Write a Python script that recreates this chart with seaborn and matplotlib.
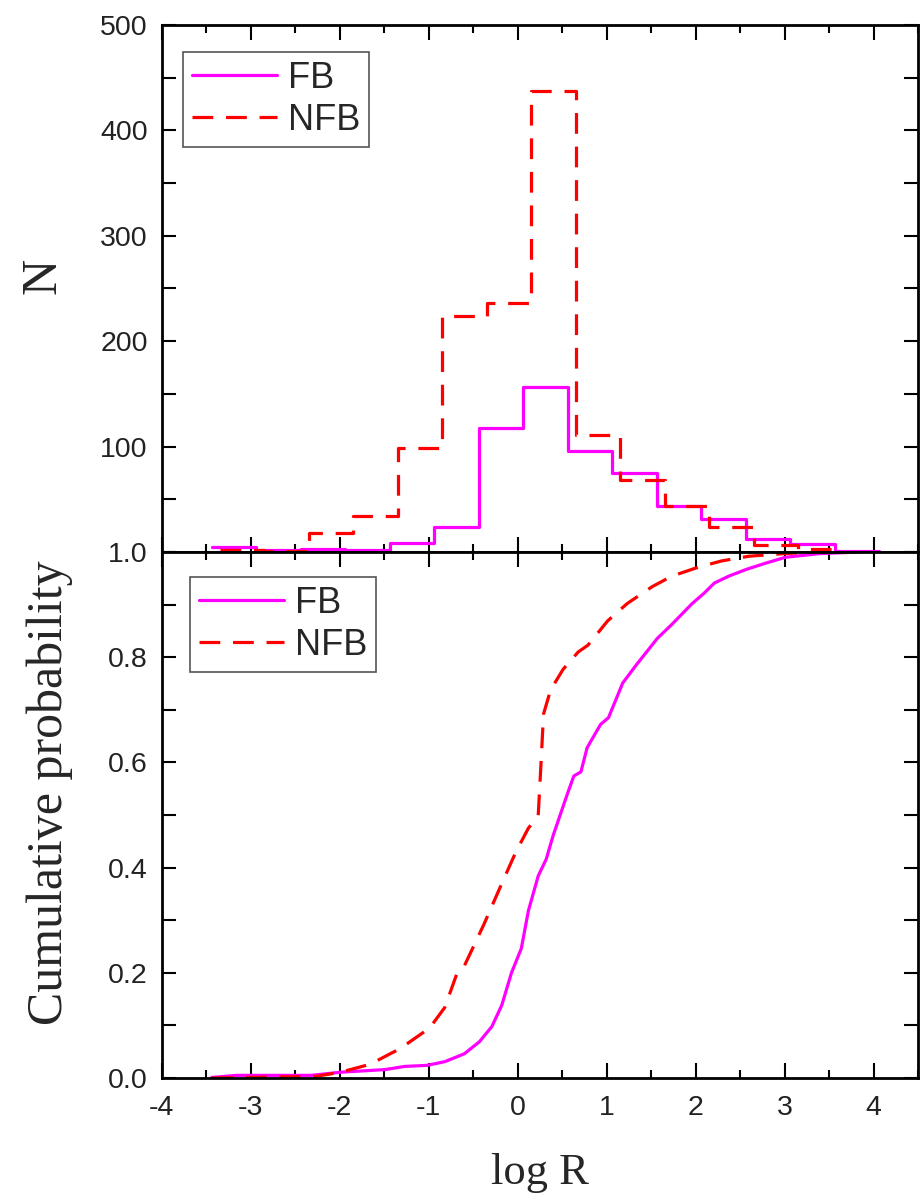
import numpy as np
import pandas as pd
import seaborn as sns
import matplotlib
matplotlib.use("Agg")
from matplotlib import pyplot as plt
from matplotlib.ticker import MultipleLocator

sns.set_theme(style="ticks")
plt.rcParams["font.family"] = ["Liberation Sans", "DejaVu Sans"]
plt.rcParams["axes.unicode_minus"] = False

# histogram (bin edges and counts)
fb_edges = [-3.44, -2.94, -2.44, -1.94, -1.44, -0.94, -0.44, 0.06, 0.56, 1.06,
            1.56, 2.06, 2.56, 3.06, 3.56, 4.06]
fb_counts = [5, 2, 3, 2, 9, 24, 118, 157, 96, 75, 44, 31, 12, 8, 1]
nfb_edges = [-3.35, -2.85, -2.35, -1.85, -1.35, -0.85, -0.35, 0.15, 0.65, 1.15,
             1.65, 2.15, 2.65, 3.15, 3.65]
nfb_counts = [2, 1, 18, 34, 99, 224, 236, 437, 111, 68, 44, 24, 7, 3]

# cumulative curves (bottom panel)
fb_cdf_x = [-3.44, -3.16, -2.32, -1.99, -1.49, -1.27, -1.02, -0.82, -0.60, -0.43,
            -0.29, -0.18, -0.07, 0.04, 0.12, 0.23, 0.32, 0.40, 0.56, 0.63, 0.71,
            0.78, 0.93, 1.02, 1.18, 1.34, 1.57, 1.73, 1.96, 2.09, 2.21, 2.37,
            2.57, 2.79, 3.01, 3.40, 3.84]
fb_cdf_y = [0.001, 0.005, 0.005, 0.011, 0.016, 0.022, 0.024, 0.031, 0.046, 0.069,
            0.098, 0.138, 0.200, 0.246, 0.318, 0.384, 0.416, 0.462, 0.541, 0.574,
            0.582, 0.628, 0.672, 0.685, 0.751, 0.787, 0.836, 0.862, 0.902, 0.921,
            0.941, 0.954, 0.967, 0.979, 0.990, 0.997, 1.0]
nfb_cdf_x = [-3.43, -2.27, -1.99, -1.66, -1.32, -0.99, -0.82, -0.68, -0.60, -0.38,
             -0.16, -0.02, 0.12, 0.23, 0.26, 0.29, 0.37, 0.51, 0.68, 0.79, 1.01,
             1.23, 1.51, 1.73, 2.01, 2.29, 2.60, 3.00, 3.40]
nfb_cdf_y = [0.0, 0.003, 0.011, 0.026, 0.056, 0.095, 0.134, 0.200, 0.213, 0.292,
             0.377, 0.430, 0.475, 0.498, 0.593, 0.692, 0.738, 0.777, 0.810, 0.823,
             0.869, 0.902, 0.934, 0.954, 0.970, 0.983, 0.992, 0.997, 1.0]

top_yticks = [0, 100, 200, 300, 400, 500]
top_ylabels = ["", "100", "200", "300", "400", "500"]
bot_yticks = [0.0, 0.2, 0.4, 0.6, 0.8, 1.0]
bot_ylabels = ["0.0", "0.2", "0.4", "0.6", "0.8", "1.0"]
xticks = [-4, -3, -2, -1, 0, 1, 2, 3, 4]

c_fb = "#ff00ff"
c_nfb = "#ff0000"
lw = 2.3
dash = (6.5, 4)
serif = ["Liberation Serif", "DejaVu Serif"]

fig = plt.figure(figsize=(9.22, 11.95), dpi=100)
ax1 = fig.add_axes([0.1754, 0.53808, 0.8205, 0.44100])
ax2 = fig.add_axes([0.1754, 0.09791, 0.8205, 0.44017])

fb_centers = np.array(fb_edges[:-1]) + np.diff(fb_edges) / 2
nfb_centers = np.array(nfb_edges[:-1]) + np.diff(nfb_edges) / 2
sns.histplot(x=fb_centers, weights=fb_counts, bins=fb_edges, element="step",
             fill=False, color=c_fb, lw=lw, ax=ax1, label="FB")
sns.histplot(x=nfb_centers, weights=nfb_counts, bins=nfb_edges, element="step",
             fill=False, color=c_nfb, lw=lw, ax=ax1, label="NFB", dashes=dash)

cdf = pd.concat([
    pd.DataFrame({"logR": fb_cdf_x, "prob": fb_cdf_y, "grp": "FB"}),
    pd.DataFrame({"logR": nfb_cdf_x, "prob": nfb_cdf_y, "grp": "NFB"}),
])
sns.lineplot(data=cdf, x="logR", y="prob", hue="grp", style="grp",
             palette={"FB": c_fb, "NFB": c_nfb},
             dashes={"FB": "", "NFB": dash}, estimator=None, lw=lw, ax=ax2)

for ax in (ax1, ax2):
    ax.set_xlim(-4, 4.5)
    ax.set_xticks(xticks)
    ax.xaxis.set_minor_locator(MultipleLocator(0.5))
    ax.tick_params(which="both", direction="in", top=True, right=True,
                   width=1.5, color="black", labelsize=20.5, labelcolor="#222222")
    ax.tick_params(axis="x", which="major", length=11, pad=12)
    ax.tick_params(axis="x", which="minor", length=6)
    ax.tick_params(axis="y", which="both", length=10, pad=10)
    for s in ax.spines.values():
        s.set_linewidth(2.0)
        s.set_color("black")
    ax.set_xlabel("")
    ax.set_ylabel("")

ax1.set_ylim(0, 500)
ax1.set_yticks(top_yticks)
ax1.set_yticklabels(top_ylabels)
ax1.yaxis.set_minor_locator(MultipleLocator(50))
ax1.tick_params(axis="x", labelbottom=False)

ax2.set_ylim(0, 1.0)
ax2.set_yticks(bot_yticks)
ax2.set_yticklabels(bot_ylabels)
ax2.yaxis.set_minor_locator(MultipleLocator(0.1))

ax1.set_ylabel("N", fontsize=36, family=serif)
ax1.yaxis.set_label_coords(-0.126, 0.523)
ax2.set_ylabel("Cumulative probability", fontsize=36, family=serif)
ax2.yaxis.set_label_coords(-0.117, 0.543)
ax2.set_xlabel("log R", fontsize=32, family=serif)
ax2.xaxis.set_label_coords(0.5, -0.1426)

leg_kw = dict(loc="upper left", borderaxespad=0, fontsize=26, frameon=True,
              fancybox=False, edgecolor="#555555", framealpha=1,
              handlelength=2.35, handletextpad=0.3, borderpad=0.25,
              labelspacing=0.2)
h1 = ax1.get_lines()[:2]
ax1.legend(h1, ["FB", "NFB"], bbox_to_anchor=(0.0286, 0.9493), **leg_kw)
h2, l2 = ax2.get_legend_handles_labels()
ax2.legend(h2, l2, bbox_to_anchor=(0.0374, 0.953), **leg_kw)
for ax in (ax1, ax2):
    ax.get_legend().get_frame().set_linewidth(1.2)

fig.savefig("out.png", dpi=100)
